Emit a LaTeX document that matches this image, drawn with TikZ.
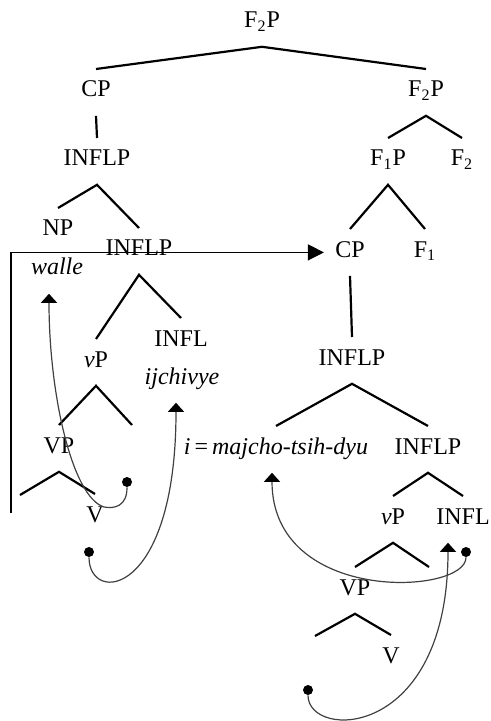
\documentclass[tikz,border=0pt]{standalone}
\usepackage{fontspec}
\setmainfont{Liberation Serif}
\usetikzlibrary{arrows.meta}

\begin{document}
\begin{tikzpicture}[x=0.5pt, y=-0.5pt,
    lbl/.style={anchor=base, inner sep=0pt, text height=13.8pt, text depth=9.2pt,
                font=\fontsize{12}{14}\selectfont},
    branch/.style={line width=1.1pt},
    move/.style={line width=0.6pt, black!75, -{Triangle[width=8pt,length=4.5pt,color=black]}},
    trace/.style={circle, fill=black, inner sep=0pt, minimum size=5pt}]

    \useasboundingbox (0,0) rectangle (491,721);

    % --- Upper part ---
    \node[lbl] (f2pTop) at (262,28) {F\textsubscript{2}P};
    \node[lbl] (cpL) at (96,97) {CP};
    \node[lbl] (f2pR) at (426,97) {F\textsubscript{2}P};
    \node[lbl] (f1p) at (388,166) {F\textsubscript{1}P};
    \node[lbl] (f2) at (462,166) {F\textsubscript{2}};
    \node[lbl] (cpR) at (350,257) {CP};
    \node[lbl] (f1) at (425,257) {F\textsubscript{1}};

    \draw[branch] (cpL.north) -- (f2pTop.south) -- (f2pR.north);
    \draw[branch] (f1p.north) -- (f2pR.south) -- (f2.north);
    \draw[branch] (cpR.north) -- (f1p.south) -- (f1.north);

    % --- Left clause ---
    \node[lbl] (inflpA) at (97,166) {INFLP};
    \node[lbl] (np) at (58,236) {NP};
    \node[lbl] (inflpB) at (139,256) {INFLP};
    \node[lbl] (walle) at (57,275) {\textit{walle}};
    \node[lbl] (inflA) at (181,346) {INFL};
    \node[lbl] (ijchivye) at (182,384) {\textit{ijchivye}};
    \node[lbl] (vPa) at (96,367) {\textit{v}P};
    \node[lbl] (VPa) at (59,453) {VP};
    \node[lbl] (Va) at (95,522) {V};
    \coordinate (vPaGap) at (132,425);
    \coordinate (VPaGap) at (20,495);

    \draw[branch] (cpL.south) -- (inflpA.north);
    \draw[branch] (np.north) -- (inflpA.south) -- (inflpB.north);
    \draw[branch] (vPa.north) -- (inflpB.south) -- (inflA.north);
    \draw[branch] (VPa.north) -- (vPa.south) -- (vPaGap);
    \draw[branch] (VPaGap) -- (VPa.south) -- (Va.north);

    % --- Right clause ---
    \node[lbl] (inflpC) at (352,365) {INFLP};
    \node[lbl] (majcho) at (276,454) {\textit{i}\,=\,\textit{majcho-tsih-dyu}};
    \node[lbl] (inflpD) at (428,454) {INFLP};
    \node[lbl] (vPb) at (393,524) {\textit{v}P};
    \node[lbl] (inflB) at (463,524) {INFL};
    \node[lbl] (VPb) at (355,595) {VP};
    \node[lbl] (Vb) at (391,663) {V};
    \coordinate (vPbGap) at (429,567);
    \coordinate (VPbGap) at (315,636);

    \draw[branch] (cpR.south) -- (inflpC.north);
    \draw[branch] (majcho.north) -- (inflpC.south) -- (inflpD.north);
    \draw[branch] (vPb.north) -- (inflpD.south) -- (inflB.north);
    \draw[branch] (VPb.north) -- (vPb.south) -- (vPbGap);
    \draw[branch] (VPbGap) -- (VPb.south) -- (Vb.north);

    % --- Movement ---
    \node[trace] (d1) at (127,482) {};
    \node[trace] (d2) at (89,552) {};
    \node[trace] (d3) at (466,552) {};
    \node[trace] (d4) at (308,690) {};

    \draw[move] (d1) .. controls +(0,24) and +(11,2) .. ++(-23,25)
        .. controls +(-32,-10) and +(0,100) .. ([xshift=-4pt]walle.south);
    \draw[move] (d2) .. controls +(0,53) and +(0,195) .. ([xshift=-3pt]ijchivye.south);
    \draw[move] (d3) .. controls +(0,43) and +(0,132) .. ([xshift=-2pt]majcho.south);
    \draw[move] (d4) .. controls +(0,50) and +(0,198) .. ([xshift=-7.5pt]inflB.south);

    % clause raised to the right CP
    \coordinate (hookFoot) at (11,513);
    \draw[line width=0.6pt, -{Triangle[width=8pt,length=8pt]}]
        (hookFoot) |- ([xshift=-5.5pt]cpR.west);

\end{tikzpicture}
\end{document}
